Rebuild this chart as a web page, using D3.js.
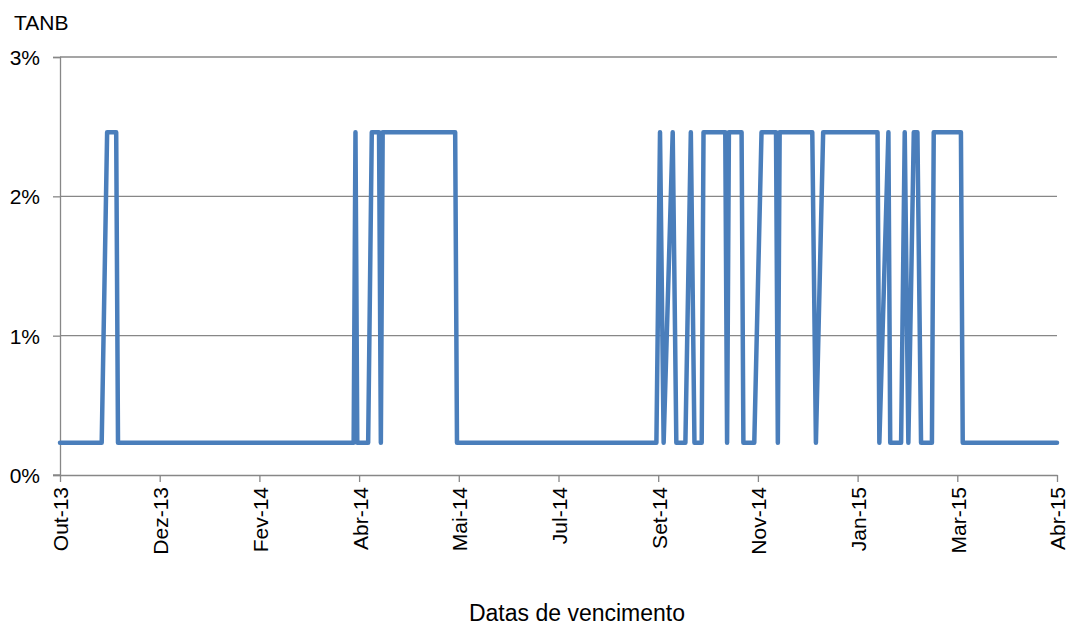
<!DOCTYPE html>
<html>
<head>
<meta charset="utf-8">
<script src="https://cdn.jsdelivr.net/npm/d3@7"></script>
<style>
  html, body { margin: 0; padding: 0; background: #fff; }
  svg { display: block; font-family: "Liberation Sans", Arial, sans-serif; }
</style>
</head>
<body>
<svg id="chart" width="1067" height="625"></svg>
<script>
// ---- data ----
const domainDates = ["2013-10-22", "2015-04-25"];
const tickDates = ["2013-10-22","2013-12-16","2014-02-09","2014-04-05","2014-05-30","2014-07-24","2014-09-17","2014-11-11","2015-01-05","2015-03-01","2015-04-25"];
const tickLabels = ["Out-13","Dez-13","Fev-14","Abr-14","Mai-14","Jul-14","Set-14","Nov-14","Jan-15","Mar-15","Abr-15"];
const yTicks = [0, 1, 2, 3];
const yTickLabels = ["0%", "1%", "2%", "3%"];

const dates = [
  "2013-10-22","2013-11-14","2013-11-17","2013-11-22","2013-11-23",
  "2014-04-02","2014-04-03","2014-04-04","2014-04-10","2014-04-12",
  "2014-04-16","2014-04-17","2014-04-18","2014-05-28","2014-05-29",
  "2014-09-16","2014-09-18","2014-09-20","2014-09-25","2014-09-27",
  "2014-10-02","2014-10-05","2014-10-07","2014-10-11","2014-10-12",
  "2014-10-24","2014-10-25","2014-10-26","2014-11-02","2014-11-03",
  "2014-11-09","2014-11-13","2014-11-21","2014-11-22","2014-11-23",
  "2014-12-11","2014-12-13","2014-12-17","2015-01-16","2015-01-17",
  "2015-01-22","2015-01-23","2015-01-29","2015-01-31","2015-02-02",
  "2015-02-05","2015-02-07","2015-02-09","2015-02-15","2015-02-16",
  "2015-03-03","2015-03-04","2015-04-25"
];
const tanb = [
  0.232,0.232,2.46,2.46,0.232,
  0.232,2.46,0.232,0.232,2.46,
  2.46,0.232,2.46,2.46,0.232,
  0.232,2.46,0.232,2.46,0.232,
  0.232,2.46,0.232,0.232,2.46,
  2.46,0.232,2.46,2.46,0.232,
  0.232,2.46,2.46,0.232,2.46,
  2.46,0.232,2.46,2.46,0.232,
  2.46,0.232,0.232,2.46,0.232,
  2.46,2.46,0.232,0.232,2.46,
  2.46,0.232,0.232
];

// ---- chart ----
(function () {
const parse = d3.utcParse("%Y-%m-%d");
const svg = d3.select("#chart");
const mLeft = 60, mRight = 1057, mTop = 57, mBottom = 475;
const gridColor = "#878787";

const x = d3.scaleUtc().domain(domainDates.map(parse)).range([mLeft, mRight]);
const y = d3.scaleLinear().domain([0, 3]).range([mBottom, mTop]);

// gridlines
svg.append("g").selectAll("line").data(yTicks.filter(d => d > 0)).join("line")
  .attr("x1", mLeft).attr("x2", mRight)
  .attr("y1", d => y(d)).attr("y2", d => y(d))
  .attr("stroke", gridColor).attr("stroke-width", 1.3);

// y axis
const yAxis = svg.append("g").attr("transform", `translate(${mLeft},0)`)
  .call(d3.axisLeft(y).tickValues(yTicks).tickFormat((d, i) => yTickLabels[i]).tickSize(7).tickPadding(13));
yAxis.select(".domain").attr("stroke", gridColor).attr("stroke-width", 1.3);
yAxis.selectAll(".tick line").attr("stroke", gridColor).attr("stroke-width", 1.3);
yAxis.selectAll(".tick text").attr("font-size", 21).attr("fill", "#000")
  .attr("font-family", "Liberation Sans, Arial, sans-serif").attr("dy", "0.36em");

// x axis
const xAxis = svg.append("g").attr("transform", `translate(0,${mBottom})`)
  .call(d3.axisBottom(x).tickValues(tickDates.map(parse)).tickFormat((d, i) => tickLabels[i]).tickSize(7).tickSizeOuter(0));
xAxis.select(".domain").attr("stroke", gridColor).attr("stroke-width", 1.3);
xAxis.selectAll(".tick line").attr("stroke", gridColor).attr("stroke-width", 1.3);
xAxis.selectAll(".tick text")
  .attr("font-size", 21).attr("fill", "#000")
  .attr("font-family", "Liberation Sans, Arial, sans-serif")
  .attr("text-anchor", "end")
  .attr("transform", "rotate(-90)")
  .attr("x", -12).attr("y", 0).attr("dy", "0.38em");

// extend x axis line slightly to the left (tick of 0%)
svg.append("line").attr("x1", mLeft - 7).attr("x2", mLeft).attr("y1", mBottom).attr("y2", mBottom)
  .attr("stroke", gridColor).attr("stroke-width", 1.3);

// line
const pts = dates.map((d, i) => ({ date: parse(d), v: tanb[i] }));
svg.append("path").datum(pts)
  .attr("fill", "none")
  .attr("stroke", "#4A7EBB")
  .attr("stroke-width", 4.5)
  .attr("stroke-linejoin", "round")
  .attr("stroke-linecap", "round")
  .attr("d", d3.line().x(d => x(d.date)).y(d => y(d.v)));

// titles
svg.append("text").attr("x", 14).attr("y", 30).attr("font-size", 21).attr("fill", "#000").text("TANB");
svg.append("text").attr("x", 577).attr("y", 621).attr("text-anchor", "middle")
  .attr("font-size", 23).attr("fill", "#000").text("Datas de vencimento");
})();
</script>
</body>
</html>
